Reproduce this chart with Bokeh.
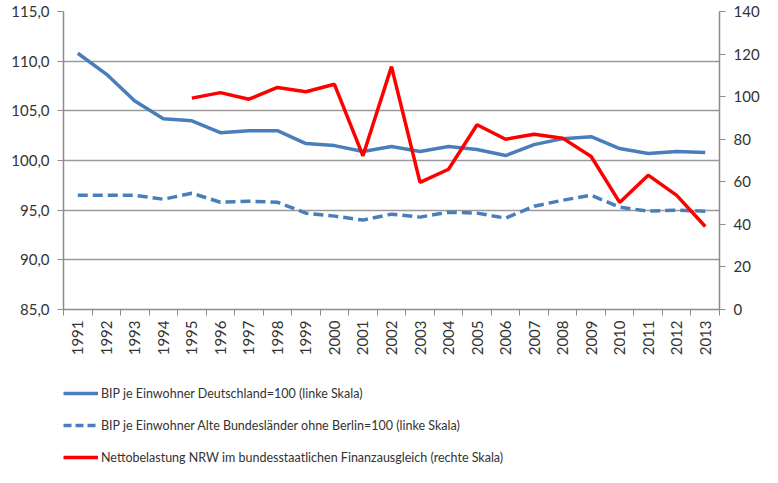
from bokeh.plotting import figure
from bokeh.layouts import column
from bokeh.models import Range1d, LinearAxis, FixedTicker, Legend, LegendItem
from bokeh.embed import file_html
from bokeh.resources import INLINE
import math

years = list(range(1991, 2014))
year_labels = [str(y) for y in years]
bip_de = [110.8, 108.7, 106.0, 104.2, 104.0, 102.8, 103.0, 103.0, 101.7, 101.5, 100.9,
          101.4, 100.9, 101.4, 101.1, 100.5, 101.6, 102.2, 102.4, 101.2, 100.7, 100.9, 100.8]
bip_alt = [96.5, 96.5, 96.5, 96.1, 96.7, 95.8, 95.9, 95.8, 94.7, 94.4, 94.0,
           94.6, 94.3, 94.8, 94.7, 94.2, 95.4, 96.0, 96.5, 95.3, 94.9, 95.0, 94.9]
nrw_years = list(range(1995, 2014))
nrw = [99.3, 101.9, 98.8, 104.3, 102.3, 105.8, 72.2, 114.1, 59.7, 65.9, 86.8,
       80.0, 82.3, 80.5, 71.9, 50.3, 63.1, 53.6, 39.0]
left_ticks = [85, 90, 95, 100, 105, 110, 115]
left_labels = ["85,0", "90,0", "95,0", "100,0", "105,0", "110,0", "115,0"]
right_ticks = [0, 20, 40, 60, 80, 100, 120, 140]
names = ["BIP je Einwohner Deutschland=100 (linke Skala)",
         "BIP je Einwohner Alte Bundesländer ohne Berlin=100 (linke Skala)",
         "Nettobelastung NRW im bundesstaatlichen Finanzausgleich (rechte Skala)"]

FONT = "Lato"
AXC = "#8c8c8c"
TXT = "#333333"
BLUE = "#4a7ebb"
RED = "#ff0000"

p = figure(width=762, height=360, output_backend="svg", toolbar_location=None,
           x_range=Range1d(years[0] - 0.5, years[-1] + 0.5),
           y_range=Range1d(85, 115),
           min_border_left=63, min_border_right=42, min_border_top=11,
           min_border_bottom=51)
p.outline_line_color = None
p.extra_y_ranges = {"right": Range1d(0, 140)}

p.line(years, bip_de, line_color=BLUE, line_width=3.5)
p.line(years, bip_alt, line_color=BLUE, line_width=3.5, line_dash="10 5")
p.line(nrw_years, nrw, line_color=RED, line_width=3.5, y_range_name="right")

# x axis
xa = p.xaxis[0]
xa.ticker = FixedTicker(ticks=years, minor_ticks=[y - 0.5 for y in years] + [years[-1] + 0.5])
xa.major_label_overrides = {y: l for y, l in zip(years, year_labels)}
xa.major_label_orientation = math.pi / 2
xa.major_tick_out = 0
xa.major_tick_in = 0
xa.minor_tick_out = 6
xa.minor_tick_in = 0
xa.minor_tick_line_color = AXC
xa.axis_line_color = AXC
xa.axis_line_width = 1.5
xa.major_label_standoff = 5
xa.major_label_text_font = FONT
xa.major_label_text_font_size = "15px"
xa.major_label_text_color = TXT

# left axis
ya = p.yaxis[0]
ya.ticker = FixedTicker(ticks=left_ticks)
ya.major_label_overrides = {t: l for t, l in zip(left_ticks, left_labels)}
ya.minor_tick_line_color = None
ya.major_tick_out = 6
ya.major_tick_in = 0
ya.major_tick_line_color = AXC
ya.axis_line_color = AXC
ya.axis_line_width = 1.5
ya.major_label_standoff = 8
ya.major_label_text_font = FONT
ya.major_label_text_font_size = "15px"
ya.major_label_text_color = TXT

# right axis
ra = LinearAxis(y_range_name="right", ticker=FixedTicker(ticks=right_ticks))
ra.minor_tick_line_color = None
ra.major_tick_out = 6
ra.major_tick_in = 0
ra.major_tick_line_color = AXC
ra.axis_line_color = AXC
ra.axis_line_width = 1.5
ra.major_label_standoff = 8
ra.major_label_text_font = FONT
ra.major_label_text_font_size = "15px"
ra.major_label_text_color = TXT
p.add_layout(ra, "right")

p.xgrid.grid_line_color = None
p.ygrid.ticker = FixedTicker(ticks=left_ticks)
p.ygrid.grid_line_color = "#9a9a9a"
p.ygrid.grid_line_width = 1.5

# legend panel below the chart (its series lie outside its own view, so only the keys show)
lg = figure(width=762, height=107, output_backend="svg", toolbar_location=None,
            x_range=Range1d(0, 1), y_range=Range1d(0, 1),
            x_axis_type=None, y_axis_type=None,
            min_border_left=0, min_border_right=0, min_border_top=0, min_border_bottom=0)
lg.outline_line_color = None
lg.xgrid.grid_line_color = None
lg.ygrid.grid_line_color = None
k1 = lg.line(years, bip_de, line_color=BLUE, line_width=3.5)
k2 = lg.line(years, bip_alt, line_color=BLUE, line_width=3.5, line_dash="8 4")
k3 = lg.line(nrw_years, nrw, line_color=RED, line_width=3.5)

legend = Legend(items=[LegendItem(label=names[0], renderers=[k1]),
                       LegendItem(label=names[1], renderers=[k2]),
                       LegendItem(label=names[2], renderers=[k3])],
                location=(0, 0), orientation="vertical",
                glyph_width=35, glyph_height=20, label_height=20, spacing=12,
                label_standoff=3, padding=0, margin=0,
                background_fill_alpha=0, border_line_color=None,
                label_text_font=FONT, label_text_font_size="12.5px",
                label_text_color=TXT)
lg.add_layout(legend, "center")

layout = column(p, lg, spacing=0)
open("out.html", "w").write(file_html(layout, INLINE))
